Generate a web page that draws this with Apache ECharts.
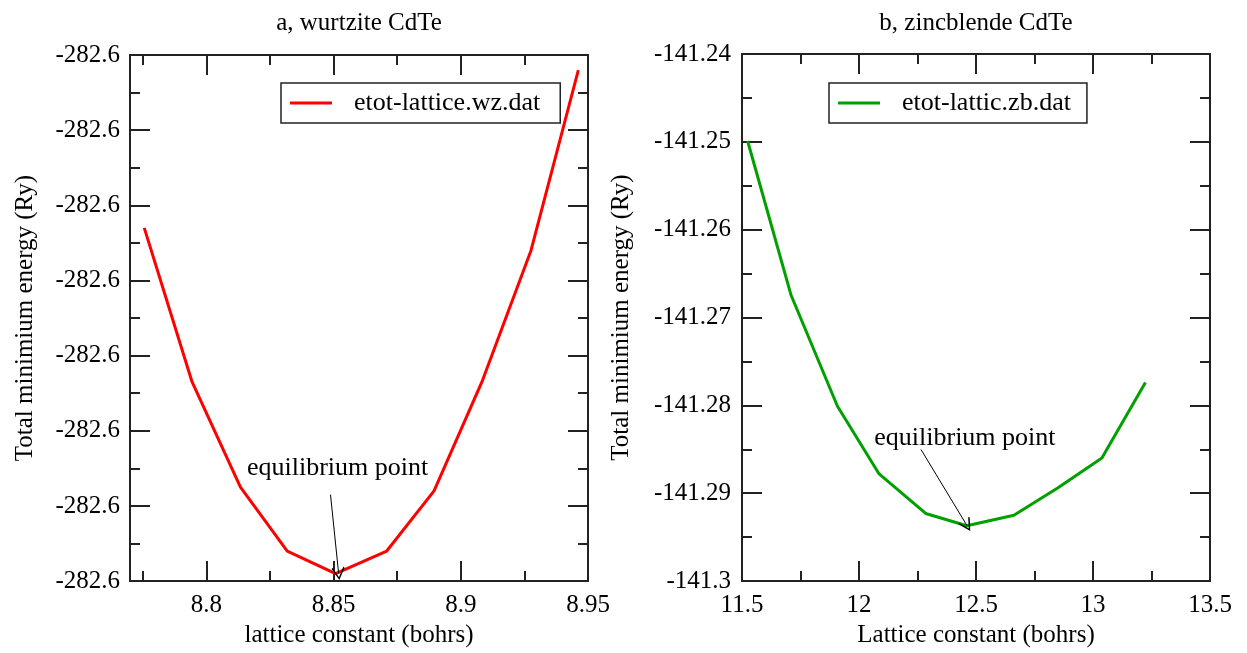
<!DOCTYPE html>
<html><head><meta charset="utf-8">
<script src="https://cdn.jsdelivr.net/npm/echarts@6/dist/echarts.min.js"></script>
<style>html,body{margin:0;padding:0;background:#fff}#c{width:1247px;height:653px}</style>
</head><body><div id="c"></div>
<script>
// ---- data ----
const wzLattice = [8.7756, 8.7944, 8.8134, 8.8318, 8.8508, 8.8709, 8.8895, 8.9083, 8.9276, 8.9462];
const wzEnergy  = [-282.58706, -282.58747, -282.58775, -282.58792, -282.58798, -282.58792, -282.58776, -282.58747, -282.58712, -282.58664];
const zbLattice = [11.524, 11.709, 11.908, 12.086, 12.285, 12.461, 12.662, 12.849, 13.038, 13.224];
const zbEnergy  = [-141.2499, -141.2674, -141.2801, -141.2878, -141.2923, -141.2937, -141.2925, -141.2894, -141.2860, -141.2774];
const wzMajorTicks = [8.8, 8.85, 8.9, 8.95];
const wzMinorTicks = [8.775, 8.825, 8.875, 8.925];
const wzName = 'etot-lattice.wz.dat';
const zbName = 'etot-lattic.zb.dat';
const titles = ['a, wurtzite CdTe', 'b, zincblende CdTe'];
const annotation = 'equilibrium point';
const wzNote = {text: [8.8516, -282.58770], from: [8.8488, -282.58777], to: [8.8520, -282.58798]};
const zbNote = {text: [12.4526, -141.28371], from: [12.265, -141.28502], to: [12.461, -141.29366]};

const FONT = 'Liberation Serif';
const AX = '#222';
const chevron = 'path://M5,0 L10,9 L9.2,10 L5,2.2 L0.8,10 L0,9 Z';

function lineOpt(show){ return {show: show, lineStyle: {color: AX, width: 2}}; }
function tick(len, extra){ return Object.assign({show: true, inside: true, length: len, lineStyle: {color: AX, width: 2}}, extra || {}); }
const tickLabel = {color: '#000', fontFamily: FONT, fontSize: 25};
const nameStyle = {color: '#000', fontFamily: FONT, fontSize: 25};

const chart = echarts.init(document.getElementById('c'));
chart.setOption({
  animation: false,
  backgroundColor: '#fff',
  title: [
    {text: titles[0], left: 359, top: 11, textAlign: 'center', padding: 0,
     textStyle: {color: '#000', fontFamily: FONT, fontSize: 25, fontWeight: 'normal'}},
    {text: titles[1], left: 976, top: 11, textAlign: 'center', padding: 0,
     textStyle: {color: '#000', fontFamily: FONT, fontSize: 25, fontWeight: 'normal'}}
  ],
  legend: [
    {data: [{name: wzName, icon: 'rect'}], left: 281, top: 83, orient: 'vertical', padding: [7, 20, 7, 9],
     borderColor: AX, borderWidth: 1.5, itemWidth: 42, itemHeight: 3,
     textStyle: {color: '#000', fontFamily: FONT, fontSize: 26, padding: [0, 0, 0, 17]}},
    {data: [{name: zbName, icon: 'rect'}], left: 829, top: 83, orient: 'vertical', padding: [7, 16, 7, 9],
     borderColor: AX, borderWidth: 1.5, itemWidth: 42, itemHeight: 3,
     textStyle: {color: '#000', fontFamily: FONT, fontSize: 26, padding: [0, 0, 0, 17]}}
  ],
  grid: [
    {left: 130, top: 55, width: 458, height: 531},
    {left: 742, top: 54, width: 468, height: 532}
  ],
  xAxis: [
    {gridIndex: 0, type: 'value', position: 'bottom', min: 8.77, max: 8.95,
     axisLine: lineOpt(true), axisTick: tick(20, {customValues: wzMajorTicks}),
     axisLabel: Object.assign({customValues: wzMajorTicks, margin: 12}, tickLabel),
     splitLine: {show: false},
     name: 'lattice constant (bohrs)', nameLocation: 'middle', nameGap: 40, nameTextStyle: nameStyle},
    {gridIndex: 0, type: 'value', position: 'bottom', min: 8.77, max: 8.95,
     axisLine: lineOpt(false), axisTick: tick(10, {customValues: wzMinorTicks}),
     axisLabel: {show: false}, splitLine: {show: false}},
    {gridIndex: 0, type: 'value', position: 'top', min: 8.77, max: 8.95,
     axisLine: lineOpt(true), axisTick: tick(20, {customValues: wzMajorTicks}),
     axisLabel: {show: false}, splitLine: {show: false}},
    {gridIndex: 0, type: 'value', position: 'top', min: 8.77, max: 8.95,
     axisLine: lineOpt(false), axisTick: tick(10, {customValues: wzMinorTicks}),
     axisLabel: {show: false}, splitLine: {show: false}},
    {gridIndex: 1, type: 'value', position: 'bottom', min: 11.5, max: 13.5, interval: 0.5,
     axisLine: lineOpt(true), axisTick: tick(20),
     minorTick: {show: true, splitNumber: 2, length: 10, lineStyle: {color: AX, width: 2}},
     axisLabel: Object.assign({margin: 12, formatter: v => String(+v.toFixed(2))}, tickLabel),
     splitLine: {show: false}, minorSplitLine: {show: false},
     name: 'Lattice constant (bohrs)', nameLocation: 'middle', nameGap: 40, nameTextStyle: nameStyle},
    {gridIndex: 1, type: 'value', position: 'top', min: 11.5, max: 13.5, interval: 0.5,
     axisLine: lineOpt(true), axisTick: tick(20),
     minorTick: {show: true, splitNumber: 2, length: 10, lineStyle: {color: AX, width: 2}},
     axisLabel: {show: false}, splitLine: {show: false}, minorSplitLine: {show: false}}
  ],
  yAxis: [
    {gridIndex: 0, type: 'value', position: 'left', min: -282.5880, max: -282.5866, interval: 0.0002,
     axisLine: lineOpt(true), axisTick: tick(20),
     minorTick: {show: true, splitNumber: 2, length: 10, lineStyle: {color: AX, width: 2}},
     axisLabel: Object.assign({margin: 10, formatter: v => v.toFixed(1)}, tickLabel),
     splitLine: {show: false}, minorSplitLine: {show: false},
     name: 'Total minimium energy (Ry)', nameLocation: 'middle', nameGap: 92, nameTextStyle: nameStyle},
    {gridIndex: 0, type: 'value', position: 'right', min: -282.5880, max: -282.5866, interval: 0.0002,
     axisLine: lineOpt(true), axisTick: tick(20),
     minorTick: {show: true, splitNumber: 2, length: 10, lineStyle: {color: AX, width: 2}},
     axisLabel: {show: false}, splitLine: {show: false}, minorSplitLine: {show: false}},
    {gridIndex: 1, type: 'value', position: 'left', min: -141.3, max: -141.24, interval: 0.01,
     axisLine: lineOpt(true), axisTick: tick(20),
     minorTick: {show: true, splitNumber: 2, length: 10, lineStyle: {color: AX, width: 2}},
     axisLabel: Object.assign({margin: 11, formatter: v => String(+v.toFixed(2))}, tickLabel),
     splitLine: {show: false}, minorSplitLine: {show: false},
     name: 'Total minimium energy (Ry)', nameLocation: 'middle', nameGap: 108, nameTextStyle: nameStyle},
    {gridIndex: 1, type: 'value', position: 'right', min: -141.3, max: -141.24, interval: 0.01,
     axisLine: lineOpt(true), axisTick: tick(20),
     minorTick: {show: true, splitNumber: 2, length: 10, lineStyle: {color: AX, width: 2}},
     axisLabel: {show: false}, splitLine: {show: false}, minorSplitLine: {show: false}}
  ],
  series: [
    {name: wzName, type: 'line', xAxisIndex: 0, yAxisIndex: 0, symbol: 'none',
     data: wzLattice.map((x, i) => [x, wzEnergy[i]]),
     lineStyle: {color: '#ff0000', width: 3}, itemStyle: {color: '#ff0000'},
     markPoint: {symbol: 'circle', symbolSize: 0, silent: true,
       label: {show: true, position: 'inside', formatter: annotation, color: '#000', fontFamily: FONT, fontSize: 26},
       data: [{coord: wzNote.text}]},
     markLine: {silent: true, symbol: ['none', chevron], symbolSize: [13, 13],
       lineStyle: {color: '#000', width: 1, type: 'solid'}, label: {show: false},
       data: [[{coord: wzNote.from}, {coord: wzNote.to}]]}},
    {name: zbName, type: 'line', xAxisIndex: 4, yAxisIndex: 2, symbol: 'none',
     data: zbLattice.map((x, i) => [x, zbEnergy[i]]),
     lineStyle: {color: '#00a000', width: 3}, itemStyle: {color: '#00a000'},
     markPoint: {symbol: 'circle', symbolSize: 0, silent: true,
       label: {show: true, position: 'inside', formatter: annotation, color: '#000', fontFamily: FONT, fontSize: 26},
       data: [{coord: zbNote.text}]},
     markLine: {silent: true, symbol: ['none', chevron], symbolSize: [13, 13],
       lineStyle: {color: '#000', width: 1, type: 'solid'}, label: {show: false},
       data: [[{coord: zbNote.from}, {coord: zbNote.to}]]}}
  ]
});
</script>
</body></html>
